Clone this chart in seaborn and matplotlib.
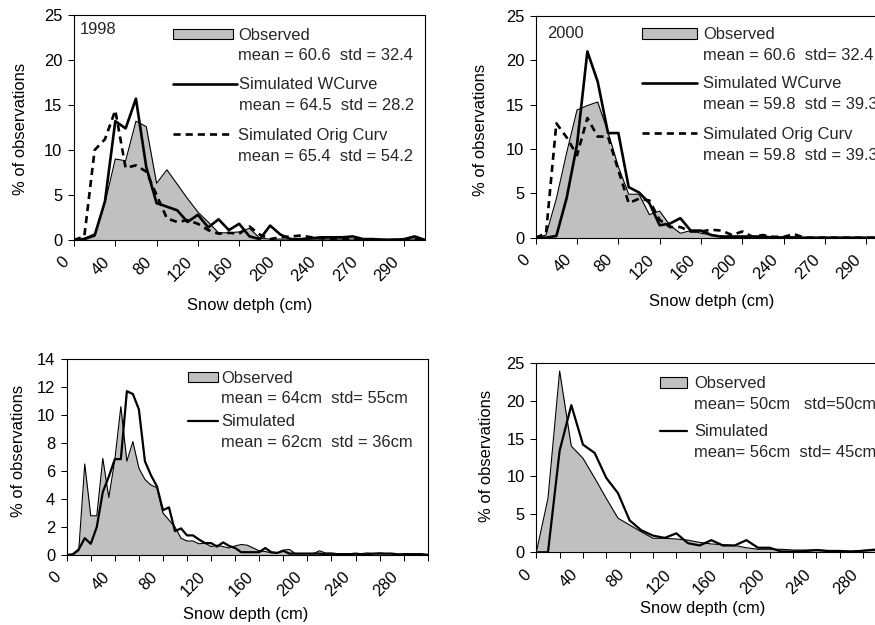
import numpy as np
import matplotlib
matplotlib.use("Agg")
import matplotlib.pyplot as plt
import seaborn as sns
from matplotlib.patches import Patch
from matplotlib.lines import Line2D
from matplotlib.legend import Legend
from matplotlib.transforms import ScaledTranslation

# ---------------- data ----------------
ticklabels_top = ['0', '40', '80', '120', '160', '200', '240', '270', '290']
ticklabels_bottom = ['0', '40', '80', '120', '160', '200', '240', '280']

obs_1998 = [0.1, 0.2, 0.7, 4.1, 9.0, 8.8, 13.2, 12.6, 6.3, 7.8,
            6.2, 4.6, 3.1, 2.0, 0.8, 0.8, 0.9, 1.3, 0.2, 0.1,
            0.1, 0.1, 0.1, 0.1, 0.1, 0.1, 0.1, 0.1, 0.1, 0.1,
            0.1, 0.1, 0.1, 0.1, 0.0]
wcurve_1998 = [0.0, 0.1, 0.5, 4.3, 13.2, 12.4, 15.7, 8.1, 4.1, 3.7,
               3.3, 2.0, 2.8, 1.4, 2.3, 1.1, 1.8, 0.4, 0.1, 1.6,
               0.6, 0.1, 0.1, 0.2, 0.3, 0.3, 0.3, 0.4, 0.1, 0.1,
               0.0, 0.0, 0.1, 0.4, 0.0]
orig_1998 = [0.0, 0.4, 10.0, 11.2, 14.4, 8.0, 8.3, 7.6, 5.0, 2.4,
             2.0, 2.2, 1.8, 1.1, 0.7, 0.8, 0.7, 1.5, 0.6, 0.1,
             0.3, 0.4, 0.5, 0.3, 0.2, 0.1, 0.1, 0.1, 0.0, 0.0,
             0.0, 0.0, 0.0, 0.1, 0.0]

obs_2000 = [0.0, 0.3, 4.4, 9.6, 14.4, 14.9, 15.3, 11.9, 8.0, 4.9,
            4.9, 2.6, 3.0, 1.4, 0.5, 0.8, 0.5, 0.3, 0.2, 0.2,
            0.2, 0.2, 0.2, 0.1, 0.1, 0.1, 0.0, 0.0, 0.0, 0.0,
            0.0, 0.0, 0.0, 0.0, 0.0]
wcurve_2000 = [0.0, 0.0, 0.2, 4.5, 10.5, 21.0, 17.6, 11.8, 11.8, 5.7,
               5.1, 3.9, 1.4, 1.6, 2.2, 0.8, 0.8, 0.3, 0.1, 0.1,
               0.1, 0.1, 0.1, 0.0, 0.0, 0.0, 0.0, 0.0, 0.0, 0.0,
               0.0, 0.0, 0.0, 0.0, 0.0]
orig_2000 = [0.0, 0.5, 12.9, 11.3, 9.3, 13.5, 11.4, 11.4, 7.6, 3.9,
             4.4, 4.2, 2.0, 1.2, 1.2, 0.7, 0.7, 0.9, 0.8, 0.3,
             0.7, 0.1, 0.3, 0.1, 0.1, 0.4, 0.0, 0.0, 0.0, 0.0,
             0.0, 0.0, 0.0, 0.0, 0.0]

obs_c = [0.0, 0.0, 0.3, 6.5, 2.8, 2.8, 6.9, 4.1, 6.8, 10.6,
         6.7, 8.1, 6.2, 5.4, 5.0, 4.8, 3.0, 2.5, 2.0, 1.2,
         1.0, 1.0, 0.8, 0.85, 0.6, 0.7, 0.6, 0.5, 0.65, 0.75,
         0.7, 0.5, 0.3, 0.25, 0.15, 0.15, 0.35, 0.4, 0.1, 0.1,
         0.1, 0.1, 0.3, 0.15, 0.15, 0.1, 0.1, 0.1, 0.1, 0.1,
         0.15, 0.1, 0.15, 0.1, 0.1, 0.05, 0.1, 0.1, 0.1, 0.1,
         0.05]
sim_c = [0.0, 0.05, 0.4, 1.2, 0.8, 2.0, 4.5, 5.6, 6.85, 6.85,
         11.7, 11.5, 10.4, 6.7, 5.7, 4.9, 3.2, 3.4, 1.7, 1.9,
         1.4, 1.4, 1.1, 0.85, 0.85, 0.6, 0.9, 0.65, 0.5, 0.2,
         0.2, 0.2, 0.2, 0.5, 0.2, 0.15, 0.3, 0.1, 0.1, 0.1,
         0.1, 0.1, 0.1, 0.05, 0.05, 0.05, 0.05, 0.05, 0.1, 0.05,
         0.05, 0.1, 0.1, 0.1, 0.1, 0.05, 0.0, 0.0, 0.0, 0.0,
         0.0]

obs_d = [0.0, 7.1, 23.9, 14.0, 12.4, 9.8, 7.1, 4.5, 3.6, 2.7,
         1.85, 1.85, 1.75, 1.6, 1.3, 1.1, 1.0, 0.9, 0.6, 0.4,
         0.4, 0.4, 0.3, 0.3, 0.3, 0.25, 0.25, 0.15, 0.25, 0.3,
         0.3]
sim_d = [0.0, 0.0, 13.4, 19.4, 14.2, 13.1, 9.8, 7.8, 4.2, 2.9,
         2.2, 1.9, 2.5, 1.2, 0.9, 1.6, 0.9, 0.9, 1.6, 0.6,
         0.6, 0.1, 0.1, 0.15, 0.3, 0.15, 0.1, 0.1, 0.2, 0.35,
         0.35]

# ---------------- style ----------------
sns.set_theme(style="ticks")
plt.rcParams['font.family'] = ['Liberation Sans', 'DejaVu Sans']
FS = 11.9
FSPX = FS * 100 / 72
GRAY = '#c0c0c0'
W, H = 875, 625

fig = plt.figure(figsize=(8.75, 6.25), dpi=100)
fig.patch.set_facecolor('white')


def px_axes(l, t, r, b):
    return fig.add_axes([l / W, 1 - b / H, (r - l) / W, (b - t) / H])


def setup(ax, n, yticks, tick_step, label_step, labels, xlabel, ylab_xy, xlab_xy):
    ax.set_facecolor('white')
    ax.set_xlim(0, n - 1)
    ax.set_ylim(yticks[0], yticks[-1])
    ax.set_yticks(yticks)
    pos = list(range(0, n, tick_step))
    lab = []
    k = 0
    for p in pos:
        if p % label_step == 0 and k < len(labels):
            lab.append(labels[k]); k += 1
        else:
            lab.append('')
    ax.set_xticks(pos)
    ax.set_xticklabels(lab, rotation=45, ha='right', va='top')
    ax.tick_params(axis='both', direction='out', length=4.3, width=0.75,
                   colors='black', labelsize=FS, bottom=True, left=True)
    ax.tick_params(axis='y', pad=4.0)
    ax.tick_params(axis='x', pad=6.0)
    off = ScaledTranslation(-2.5 / 100, 0, fig.dpi_scale_trans)
    for t in ax.get_xticklabels():
        t.set_transform(t.get_transform() + off)
    for sp in ax.spines.values():
        sp.set_visible(True)
        sp.set_color('black')
        sp.set_linewidth(0.8)
    ax.set_xlabel(xlabel, fontsize=FS, color='black')
    ax.set_ylabel('% of observations', fontsize=FS, color='black')
    ax.yaxis.set_label_coords(*ylab_xy)
    ax.xaxis.set_label_coords(*xlab_xy)
    ax.grid(False)


def group_legend(ax, handle, title, stats, left_px, top_px, hl_px, pad_px):
    blank = Line2D([], [], color='none')
    leg = Legend(ax, [handle, blank], [title, stats], loc='upper left',
                 bbox_to_anchor=(left_px / W, 1 - top_px / H),
                 bbox_transform=fig.transFigure, frameon=False,
                 borderpad=0, borderaxespad=0,
                 handlelength=hl_px / FSPX, handletextpad=pad_px / FSPX,
                 labelspacing=0.34, fontsize=FS, handleheight=0.6)
    ax.add_artist(leg)


def obs_handle():
    return Patch(facecolor=GRAY, edgecolor='black', linewidth=0.8)


def line_handle(lw, dashed=False):
    if dashed:
        return Line2D([], [], color='black', lw=lw, linestyle=(0, (2.7, 1.9)))
    return Line2D([], [], color='black', lw=lw)


def draw(ax, obs, lines):
    x = np.arange(len(obs))
    ax.fill_between(x, obs, 0, color=GRAY, lw=0, zorder=1)
    sns.lineplot(x=x, y=obs, ax=ax, color='black', lw=0.8, zorder=2)
    for y, lw, dashed, z in lines:
        if dashed:
            sns.lineplot(x=x, y=y, ax=ax, color='black', lw=lw,
                         linestyle=(0, (2.7, 1.9)), zorder=z)
        else:
            sns.lineplot(x=x, y=y, ax=ax, color='black', lw=lw, zorder=z)


# ---------------- panel 1998 ----------------
ax1 = px_axes(74, 15, 425, 240)
draw(ax1, obs_1998, [(orig_1998, 1.9, True, 3), (wcurve_1998, 1.9, False, 4)])
setup(ax1, len(obs_1998), [0, 5, 10, 15, 20, 25], 4, 4, ticklabels_top,
      'Snow detph (cm)', (-0.1315, 0.493), (0.501, -0.257))
ax1.text((80 - 74) / 351, (240 - 29) / 225, '1998', transform=ax1.transAxes,
         fontsize=FS, va='center', ha='left')
group_legend(ax1, obs_handle(), 'Observed', 'mean = 60.6  std = 32.4', 173, 27.8, 60, 5)
group_legend(ax1, line_handle(1.9), 'Simulated WCurve', 'mean = 64.5  std = 28.2', 173, 77.4, 64, 2)
group_legend(ax1, line_handle(1.9, True), 'Simulated Orig Curv', 'mean = 65.4  std = 54.2', 173, 128, 60, 5)

# ---------------- panel 2000 ----------------
ax2 = px_axes(535.7, 16, 887, 237.7)
draw(ax2, obs_2000, [(orig_2000, 1.9, True, 3), (wcurve_2000, 1.9, False, 4)])
setup(ax2, len(obs_2000), [0, 5, 10, 15, 20, 25], 4, 4, ticklabels_top,
      'Snow detph (cm)', (-0.136, 0.486), (0.4994, -0.2535))
ax2.text((547 - 535.7) / 351, (237.7 - 33) / 221.7, '2000', transform=ax2.transAxes,
         fontsize=FS, va='center', ha='left')
group_legend(ax2, obs_handle(), 'Observed', 'mean = 60.6  std= 32.4', 642, 27.2, 55, 6)
group_legend(ax2, line_handle(1.9), 'Simulated WCurve', 'mean = 59.8  std = 39.3', 642, 76.5, 55, 6)
group_legend(ax2, line_handle(1.9, True), 'Simulated Orig Curv', 'mean = 59.8  std = 39.3', 642, 127, 55, 6)

# ---------------- panel bottom left ----------------
ax3 = px_axes(66.7, 359, 427.7, 555)
draw(ax3, obs_c, [(sim_c, 1.6, False, 4)])
setup(ax3, len(obs_c), [0, 2, 4, 6, 8, 10, 12, 14], 4, 8, ticklabels_bottom,
      'Snow depth (cm)', (-0.1114, 0.53), (0.4967, -0.265))
group_legend(ax3, obs_handle(), 'Observed', 'mean = 64cm  std= 55cm', 188, 370.8, 30, 3)
group_legend(ax3, line_handle(1.6), 'Simulated', 'mean = 62cm  std = 36cm', 188, 414.4, 30, 3)

# ---------------- panel bottom right ----------------
ax4 = px_axes(536.3, 362.7, 886.4, 552.3)
draw(ax4, obs_d, [(sim_d, 1.6, False, 4)])
setup(ax4, len(obs_d), [0, 5, 10, 15, 20, 25], 2, 4, ticklabels_bottom,
      'Snow depth (cm)', (-0.121, 0.508), (0.475, -0.257))
group_legend(ax4, obs_handle(), 'Observed', 'mean= 50cm   std=50cm', 660, 376.4, 27, 7)
group_legend(ax4, line_handle(1.6), 'Simulated', 'mean= 56cm  std= 45cm', 660, 424.4, 27, 7)

fig.savefig('out.png', dpi=100, facecolor='white')
